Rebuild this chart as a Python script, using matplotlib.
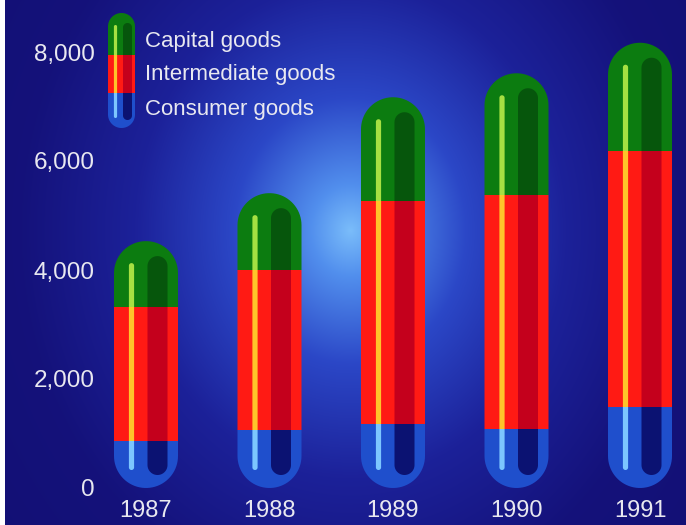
import numpy as np
import matplotlib
matplotlib.use('Agg')
import matplotlib.pyplot as plt
from matplotlib.patches import PathPatch, Rectangle
from matplotlib.path import Path

# ---------------- data ----------------
years = ['1987', '1988', '1989', '1990', '1991']
consumer = [860, 1060, 1170, 1080, 1490]
intermediate = [2460, 2940, 4100, 4300, 4690]
capital = [1210, 1410, 1900, 2230, 1990]
series_names = ['Capital goods', 'Intermediate goods', 'Consumer goods']
yticks = [0, 2000, 4000, 6000, 8000]
ytick_labels = ['0', '2,000', '4,000', '6,000', '8,000']

# ---------------- style ----------------
outer_cols = {'con': '#1f4fcc', 'int': '#ff1a14', 'cap': '#0c7c10'}
dark_cols = {'con': '#0b1272', 'int': '#c4001c', 'cap': '#06560c'}
light_cols = {'con': '#7cc6ff', 'int': '#ffc42a', 'cap': '#a6e042'}
text_col = '#e8e8f0'
FONT = 'Liberation Sans'

W, H = 686, 525
fig = plt.figure(figsize=(W / 100, H / 100), dpi=100)
ax = fig.add_axes([0, 0, 1, 1])

x0px, dxpx = 146.0, 123.5        # pixel of first category, spacing
zero_px, px_per_unit = 488.0, 0.0545
ax.set_xlim((0 - x0px) / dxpx, (W - x0px) / dxpx)
ax.set_ylim(-(H - zero_px) / px_per_unit, zero_px / px_per_unit)
for s in ax.spines.values():
    s.set_visible(False)

# ---------------- background radial glow ----------------
yy, xx = np.mgrid[0:H, 0:W].astype(float)
cx, cy = 350.0, 230.0
d = np.sqrt(((xx - cx) / 1.0) ** 2 + ((yy - cy) / 1.15) ** 2) / 330.0
stops_t = [0.0, 0.12, 0.35, 0.65, 1.0, 2.0]
stops_c = np.array([
    [0.48, 0.74, 0.98],
    [0.32, 0.56, 0.93],
    [0.17, 0.28, 0.78],
    [0.11, 0.13, 0.60],
    [0.08, 0.07, 0.48],
    [0.06, 0.05, 0.42],
])
img = np.zeros((H, W, 3))
for k in range(3):
    img[..., k] = np.interp(d, stops_t, stops_c[:, k])
xl, yl = ax.get_xlim(), ax.get_ylim()
ax.imshow(img, extent=(xl[0], xl[1], yl[0], yl[1]), origin='upper',
          aspect='auto', zorder=0, interpolation='bilinear')
ax.set_xlim(xl)
ax.set_ylim(yl)

# white scan edge on the left
fig.patches.append(Rectangle((0, 0), 5 / W, 1, transform=fig.transFigure,
                             facecolor='white', edgecolor='none', zorder=10))

inv = ax.transData.inverted()


def capsule_path_display(xc, yb, yt, r, n=40):
    """Capsule in display pixels (y up)."""
    if yt - yb < 2 * r:
        yt = yb + 2 * r
    pts = [(xc - r, yb + r), (xc - r, yt - r)]
    for a in np.linspace(np.pi, 0, n):
        pts.append((xc + r * np.cos(a), yt - r + r * np.sin(a)))
    pts.append((xc + r, yb + r))
    for a in np.linspace(0, -np.pi, n):
        pts.append((xc + r * np.cos(a), yb + r + r * np.sin(a)))
    pts.append(pts[0])
    return np.array(pts)


def clip_patch(pts_display):
    pts = inv.transform(pts_display)
    p = PathPatch(Path(pts, closed=True), facecolor='none', edgecolor='none',
                  transform=ax.transData)
    return p


def draw_capsule(xc, yb, yt, seg_bounds, seg_keys, r, dark_dx, dark_r,
                 dark_in_top, dark_in_bot, light_dx, light_r,
                 light_in_top, light_in_bot):
    """All coordinates in display pixels. seg_bounds: list of y (display)."""
    layers = [
        (capsule_path_display(xc, yb, yt, r), outer_cols, r),
        (capsule_path_display(xc + dark_dx, yb + dark_in_bot, yt - dark_in_top, dark_r),
         dark_cols, dark_r),
        (capsule_path_display(xc + light_dx, yb + light_in_bot, yt - light_in_top, light_r),
         light_cols, light_r),
    ]
    for z, (pts, cols, rr) in enumerate(layers):
        cp = clip_patch(pts)
        ax.add_patch(cp)
        for j, key in enumerate(seg_keys):
            lo, hi = seg_bounds[j], seg_bounds[j + 1]
            x_lo = pts[:, 0].min() - 2
            x_hi = pts[:, 0].max() + 2
            (dx0, dy0), (dx1, dy1) = inv.transform([(x_lo, lo - (50 if j == 0 else 0)),
                                                    (x_hi, hi + (50 if j == len(seg_keys) - 1 else 0))])
            rect = Rectangle((dx0, dy0), dx1 - dx0, dy1 - dy0,
                             facecolor=cols[key], edgecolor='none',
                             zorder=2 + z)
            ax.add_patch(rect)
            rect.set_clip_path(cp)


# ---------------- bars ----------------
keys = ['con', 'int', 'cap']
for i in range(len(years)):
    vals = [consumer[i], intermediate[i], capital[i]]
    cum = np.concatenate([[0], np.cumsum(vals)])
    disp = ax.transData.transform([(i, c) for c in cum])
    xc = disp[0, 0]
    ys = list(disp[:, 1])
    draw_capsule(xc, ys[0], ys[-1], ys, keys, r=32,
                 dark_dx=11.5, dark_r=10, dark_in_top=15, dark_in_bot=13,
                 light_dx=-14.5, light_r=2.6, light_in_top=22, light_in_bot=18)

# ---------------- legend icon ----------------
lx = 121.5
l_top, l_b1, l_b2, l_bot = 13, 55, 93, 128
draw_capsule(lx, H - l_bot, H - l_top,
             [H - l_bot, H - l_b2, H - l_b1, H - l_top], keys, r=13.5,
             dark_dx=6, dark_r=4.5, dark_in_top=10, dark_in_bot=8,
             light_dx=-6, light_r=1.6, light_in_top=12, light_in_bot=10)

legend_y = [41, 75, 109]
for name, y in zip(series_names, legend_y):
    fig.text(145 / W, 1 - y / H, name, color=text_col, fontsize=16,
             family=FONT, ha='left', va='center', zorder=20)

# ---------------- ticks ----------------
ax.set_yticks(yticks)
ax.set_yticklabels(ytick_labels)
ax.set_xticks(range(len(years)))
ax.set_xticklabels(years)
ax.tick_params(axis='y', length=0, pad=-95 * 0.72, labelsize=17.5,
               labelcolor=text_col)
ax.tick_params(axis='x', length=0, pad=-25 * 0.72, labelsize=17,
               labelcolor=text_col)
for lab in ax.get_xticklabels() + ax.get_yticklabels():
    lab.set_family(FONT)
    lab.set_zorder(20)

fig.savefig('out.png', dpi=100)
